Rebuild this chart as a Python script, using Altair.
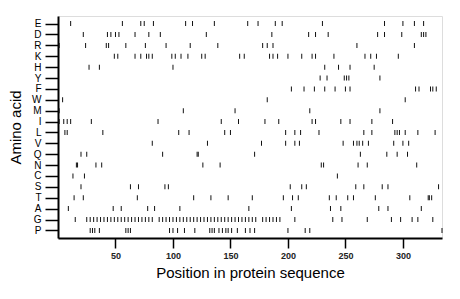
import altair as alt
import pandas as pd

amino_order = ["E", "D", "R", "K", "H", "Y", "F", "W", "M", "I",
               "L", "V", "Q", "N", "C", "S", "T", "A", "G", "P"]

E_pos = [11, 56, 72, 75, 83, 111, 117, 136, 165, 174, 189, 195, 230, 284, 300, 310, 318]
D_pos = [22, 43, 46, 50, 53, 67, 79, 89, 129, 186, 218, 224, 235, 278, 284, 299, 316, 318, 320]
R_pos = [1, 24, 42, 44, 59, 76, 94, 115, 139, 178, 182, 187, 260, 310]
K_pos = [49, 52, 67, 72, 77, 79, 82, 99, 102, 107, 113, 125, 128, 158, 162, 184, 187, 191,
         200, 212, 221, 224, 240, 267, 272, 277, 296]
H_pos = [27, 36, 100, 232, 244, 254, 275]
Y_pos = [228, 234, 249, 251, 253, 280]
F_pos = [203, 214, 223, 232, 241, 250, 254, 311, 314, 324, 326, 329]
W_pos = [4, 182, 302]
M_pos = [1, 109, 154, 219, 280]
I_pos = [1, 5, 8, 11, 29, 87, 142, 157, 180, 192, 221, 224, 246, 254, 273, 291]
L_pos = [6, 8, 39, 105, 114, 145, 150, 198, 206, 211, 227, 266, 273, 293, 295, 297, 302, 313, 328]
V_pos = [82, 130, 177, 198, 206, 210, 248, 257, 260, 262, 265, 270, 292, 300, 305]
Q_pos = [20, 25, 91, 121, 122, 171, 263, 286, 295, 304]
N_pos = [16, 17, 33, 38, 126, 141, 229, 231, 261, 269, 312]
C_pos = [13, 23, 243]
S_pos = [20, 63, 70, 93, 96, 202, 212, 216, 259, 266, 282, 287, 331]
T_pos = [14, 22, 69, 118, 133, 148, 169, 196, 204, 209, 236, 242, 252, 257, 276, 306, 322, 323, 325]
A_pos = [9, 48, 55, 78, 84, 106, 166, 203, 237, 246, 279, 287, 316]
G_pos = [15, 25, 28, 31, 34, 37, 40, 43, 46, 49, 52, 55, 58, 61, 64, 67, 70, 73, 76, 79, 82,
         88, 91, 94, 97, 100, 103, 106, 109, 112, 115, 118, 121, 124, 127, 130, 133, 136,
         139, 142, 145, 148, 151, 154, 157, 160, 163, 166, 169, 172, 178, 181, 184, 187,
         190, 193, 206, 239, 247, 269, 290, 298, 308, 313, 326]
P_pos = [28, 30, 32, 36, 59, 61, 63, 97, 100, 104, 110, 119, 132, 134, 136, 140, 143, 146,
         148, 151, 156, 163, 167, 171, 200, 215, 219, 334]

x_ticks = [50, 100, 150, 200, 250, 300]
seq_length = 334

positions = {
    "E": E_pos, "D": D_pos, "R": R_pos, "K": K_pos, "H": H_pos, "Y": Y_pos,
    "F": F_pos, "W": W_pos, "M": M_pos, "I": I_pos, "L": L_pos, "V": V_pos,
    "Q": Q_pos, "N": N_pos, "C": C_pos, "S": S_pos, "T": T_pos, "A": A_pos,
    "G": G_pos, "P": P_pos,
}

rows = []
for aa in amino_order:
    for p in positions[aa]:
        rows.append({"aa": aa, "pos": p})
df = pd.DataFrame(rows)

font = "Liberation Sans"

chart = alt.Chart(df).mark_tick(
    orient="vertical", size=5, thickness=1, color="#111111", opacity=1
).encode(
    x=alt.X("pos:Q",
            scale=alt.Scale(domain=[0, seq_length], nice=False, zero=False),
            axis=alt.Axis(values=x_ticks, title="Position in protein sequence",
                          grid=False, tickSize=10, tickWidth=1.5, domainWidth=2,
                          domainColor="black", tickColor="black",
                          labelFont=font, labelFontSize=9, labelFontWeight="bold",
                          labelColor="#222222", labelPadding=3,
                          titleFont=font, titleFontSize=15, titleFontWeight="normal",
                          titleColor="black", titlePadding=5)),
    y=alt.Y("aa:N",
            scale=alt.Scale(domain=amino_order, type="point", padding=0.7),
            axis=alt.Axis(title="Amino acid", grid=False, tickSize=13, tickWidth=1.5,
                          domainWidth=2, domainColor="black", tickColor="black",
                          labelFont=font, labelFontSize=10, labelColor="black",
                          labelPadding=4,
                          titleFont=font, titleFontSize=15, titleFontWeight="normal",
                          titleColor="black", titlePadding=8)),
).properties(
    width=384,
    height=222,
    autosize=alt.AutoSizeParams(type="none"),
    padding={"left": 50, "top": 8, "right": 10, "bottom": 55},
).configure_view(
    stroke=None
).configure(
    background="white"
)

chart.save("out.html", embed_options={"renderer": "svg", "actions": False})
